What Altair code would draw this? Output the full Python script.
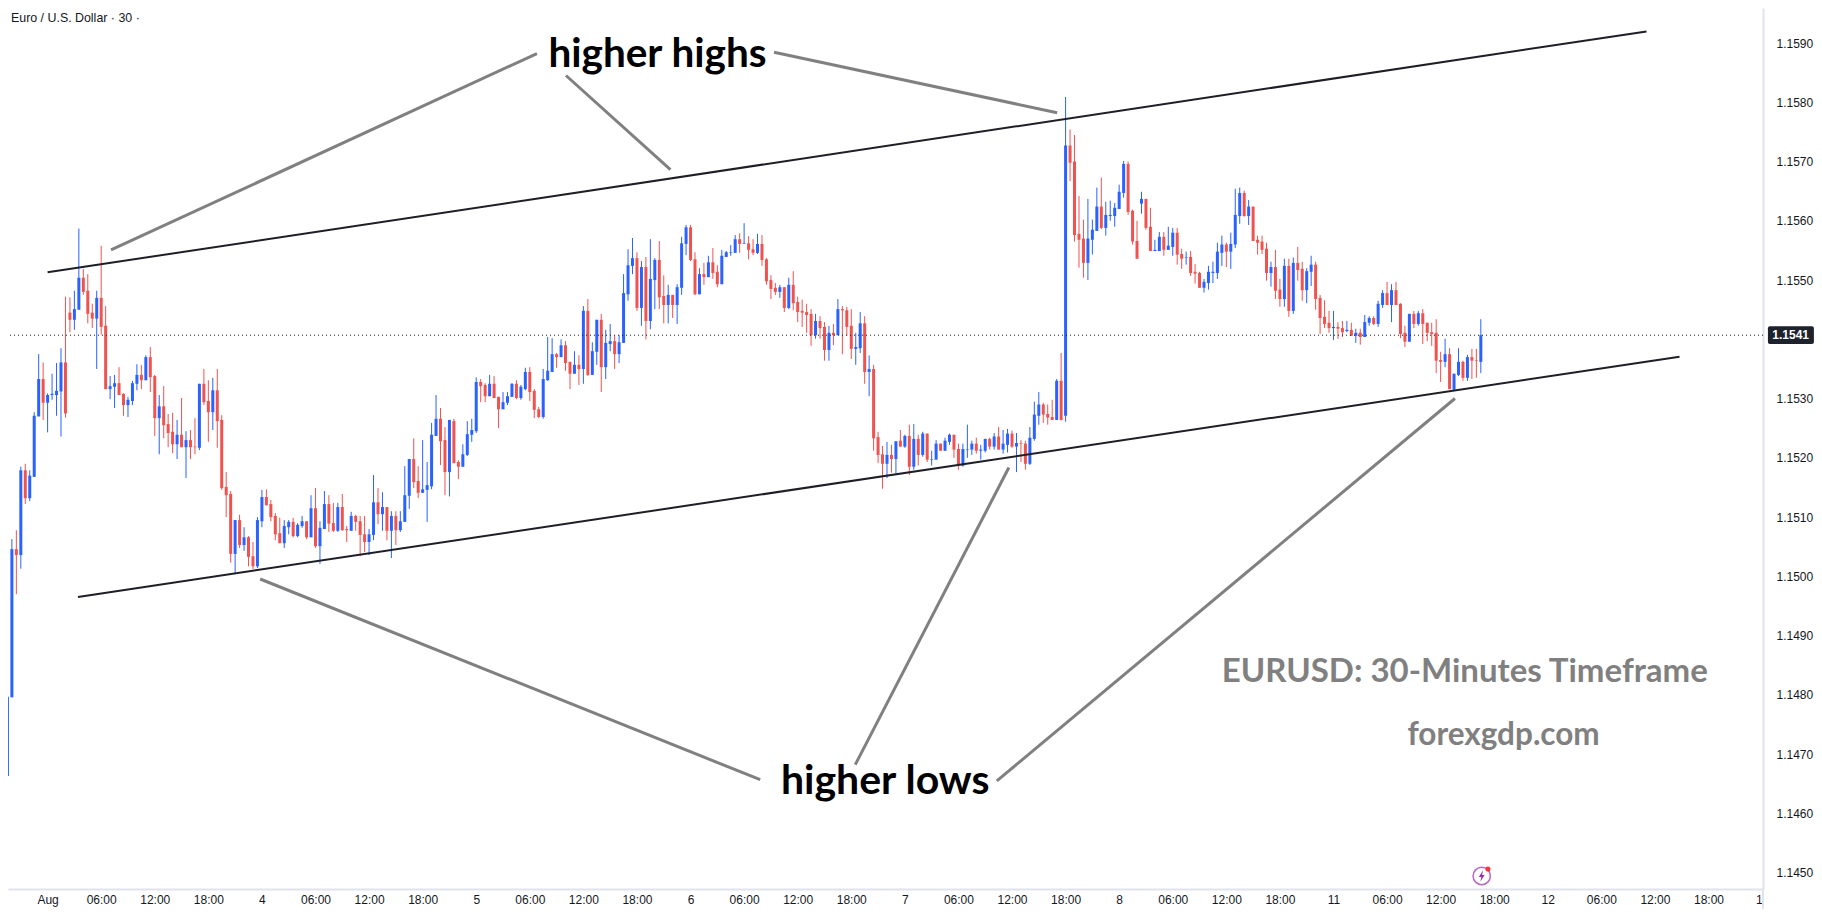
import altair as alt
import pandas as pd

# candle values, as (price - 1) * 100000. bar 0 = Aug 1 00:00, one bar = 30 min
first_bar = -10

highs = [
    15011,14800,15063,15078,15185,15190,15179,15277,15375,15361,
    15309,15342,15360,15385,15472,15471,15482,15587,15519,15510,
    15460,15482,15558,15456,15338,15340,15353,15309,15303,15330,
    15358,15357,15373,15387,15340,15306,15321,15274,15276,15264,
    15301,15245,15247,15267,15325,15350,15331,15335,15350,15272,
    15176,15144,15095,15104,15083,15068,15058,15100,15146,15147,
    15129,15107,15099,15095,15095,15099,15090,15102,15093,15137,
    15149,15093,15144,15137,15124,15124,15139,15085,15109,15104,
    15102,15102,15080,15171,15149,15142,15117,15110,15110,15110,
    15186,15198,15233,15186,15230,15193,15259,15306,15284,15252,
    15264,15266,15196,15223,15262,15266,15336,15333,15326,15340,
    15338,15303,15311,15311,15326,15331,15323,15352,15353,15316,
    15286,15350,15404,15402,15377,15400,15397,15362,15380,15373,
    15456,15468,15395,15433,15443,15416,15426,15407,15407,15510,
    15552,15571,15547,15532,15539,15569,15537,15566,15508,15492,
    15475,15493,15573,15593,15593,15547,15520,15529,15541,15554,
    15525,15551,15549,15559,15576,15579,15596,15574,15569,15578,
    15576,15537,15508,15495,15492,15488,15504,15515,15472,15467,
    15460,15451,15443,15439,15429,15423,15426,15468,15456,15455,
    15451,15411,15446,15439,15373,15357,15244,15220,15227,15222,
    15228,15247,15239,15256,15257,15239,15244,15241,15212,15230,
    15224,15234,15241,15239,15224,15224,15256,15229,15234,15222,
    15232,15234,15242,15252,15247,15249,15246,15242,15230,15229,
    15252,15295,15311,15293,15290,15298,15333,15377,15809,15754,
    15745,15642,15602,15637,15602,15656,15673,15632,15634,15630,
    15661,15701,15700,15619,15600,15649,15637,15622,15568,15581,
    15581,15590,15588,15588,15553,15548,15549,15527,15514,15502,
    15524,15531,15563,15575,15563,15580,15654,15656,15651,15635,
    15624,15575,15575,15563,15531,15551,15502,15536,15536,15538,
    15556,15531,15520,15541,15531,15475,15466,15448,15448,15429,
    15431,15431,15428,15418,15418,15441,15439,15439,15465,15483,
    15497,15493,15497,15461,15423,15443,15448,15448,15451,15428,
    15428,15434,15379,15401,15385,15342,15385,15364,15374,15384,15384,15434,
]
lows = [
    14553,14623,14796,14970,15013,15122,15127,15168,15270,15264,
    15243,15298,15271,15236,15268,15412,15416,15450,15475,15427,
    15419,15350,15408,15316,15299,15284,15306,15271,15269,15289,
    15314,15316,15331,15311,15237,15206,15233,15218,15208,15198,
    15218,15166,15198,15206,15213,15289,15227,15247,15217,15146,
    15100,15023,15004,15048,15043,15017,15012,15014,15083,15120,
    15093,15061,15056,15048,15071,15066,15066,15082,15063,15066,
    15048,15021,15080,15075,15075,15075,15077,15058,15077,15077,
    15034,15041,15036,15061,15088,15077,15061,15031,15053,15075,
    15092,15114,15149,15132,15141,15092,15147,15237,15188,15137,
    15135,15191,15164,15185,15203,15227,15242,15294,15294,15304,
    15301,15250,15282,15289,15303,15299,15298,15314,15296,15267,
    15267,15266,15330,15345,15352,15370,15347,15316,15342,15323,
    15325,15338,15340,15357,15311,15333,15380,15350,15360,15394,
    15465,15510,15448,15423,15400,15417,15451,15451,15427,15427,
    15436,15426,15475,15542,15532,15475,15476,15492,15505,15502,
    15488,15493,15539,15541,15546,15546,15561,15535,15542,15544,
    15524,15492,15468,15475,15470,15446,15451,15449,15429,15421,
    15411,15389,15401,15401,15364,15364,15390,15407,15375,15406,
    15367,15357,15377,15325,15304,15212,15191,15148,15166,15175,
    15173,15219,15217,15171,15180,15187,15202,15193,15187,15197,
    15212,15212,15222,15200,15180,15185,15200,15205,15207,15197,
    15209,15214,15214,15214,15207,15209,15217,15176,15193,15180,
    15188,15229,15256,15259,15256,15264,15264,15263,15261,15667,
    15565,15521,15504,15500,15543,15583,15586,15575,15600,15590,
    15620,15639,15610,15560,15536,15612,15585,15549,15549,15549,
    15541,15551,15541,15526,15519,15526,15507,15494,15487,15479,
    15484,15495,15502,15524,15522,15519,15554,15595,15607,15593,
    15566,15543,15544,15499,15489,15468,15455,15455,15438,15443,
    15499,15465,15461,15490,15450,15409,15419,15411,15399,15401,
    15404,15412,15406,15394,15391,15404,15423,15424,15421,15453,
    15458,15429,15458,15402,15387,15396,15419,15423,15392,15397,
    15389,15343,15328,15353,15316,15313,15338,15330,15330,15333,15335,15343,
]
opens = [
    15004,14663,14796,15046,15036,15179,15132,15168,15270,15333,
    15293,15306,15306,15312,15361,15445,15433,15450,15504,15482,
    15445,15435,15470,15423,15316,15320,15326,15308,15289,15296,
    15325,15340,15331,15370,15338,15267,15287,15257,15244,15223,
    15239,15218,15230,15219,15217,15325,15296,15277,15314,15264,
    15151,15139,15038,15095,15053,15066,15034,15017,15093,15134,
    15122,15102,15073,15056,15083,15092,15068,15085,15093,15066,
    15115,15051,15080,15122,15090,15077,15117,15080,15077,15102,
    15093,15071,15058,15070,15125,15105,15117,15077,15102,15078,
    15092,15136,15198,15161,15141,15146,15152,15237,15266,15230,
    15176,15262,15193,15185,15205,15239,15245,15328,15323,15304,
    15325,15303,15282,15293,15303,15325,15301,15316,15345,15313,
    15282,15269,15331,15345,15375,15370,15390,15362,15342,15357,
    15350,15448,15340,15379,15433,15353,15392,15397,15375,15394,
    15476,15524,15537,15453,15522,15431,15500,15534,15473,15458,
    15475,15458,15487,15561,15589,15535,15476,15510,15505,15530,
    15514,15493,15539,15546,15546,15569,15561,15562,15552,15546,
    15561,15535,15500,15487,15480,15488,15453,15492,15463,15448,
    15446,15443,15407,15431,15421,15382,15411,15407,15451,15449,
    15423,15384,15385,15427,15345,15350,15235,15206,15190,15205,
    15198,15229,15219,15237,15185,15232,15205,15241,15197,15197,
    15224,15212,15227,15239,15215,15187,15214,15214,15224,15212,
    15212,15232,15219,15236,15214,15222,15241,15219,15225,15224,
    15190,15232,15271,15290,15274,15269,15264,15330,15271,15727,
    15700,15578,15570,15529,15568,15583,15624,15588,15608,15608,
    15620,15647,15696,15617,15566,15629,15637,15590,15549,15549,
    15573,15551,15556,15580,15544,15538,15539,15514,15512,15487,
    15495,15512,15512,15546,15560,15548,15560,15608,15647,15608,
    15624,15568,15565,15553,15512,15522,15484,15468,15524,15448,
    15529,15519,15483,15514,15526,15470,15438,15428,15419,15421,
    15419,15414,15416,15406,15411,15404,15428,15436,15426,15458,
    15478,15458,15483,15460,15411,15396,15443,15426,15444,15428,
    15412,15411,15365,15362,15375,15315,15340,15362,15335,15370,15365,15362,
]
closes = [
    14663,14797,15046,15036,15179,15132,15170,15271,15333,15293,
    15306,15308,15313,15361,15275,15433,15451,15504,15480,15443,
    15435,15470,15421,15316,15321,15326,15306,15289,15298,15326,
    15340,15331,15370,15336,15267,15287,15255,15242,15223,15239,
    15218,15230,15218,15218,15325,15294,15277,15314,15262,15149,
    15137,15038,15095,15053,15066,15033,15017,15095,15134,15120,
    15100,15071,15056,15085,15092,15068,15087,15093,15066,15115,
    15051,15082,15122,15089,15077,15117,15078,15078,15102,15092,
    15070,15058,15071,15125,15105,15117,15077,15102,15078,15093,
    15137,15198,15159,15141,15147,15154,15239,15266,15228,15176,
    15264,15191,15185,15206,15240,15247,15328,15321,15304,15325,
    15301,15282,15294,15304,15325,15301,15320,15345,15311,15281,
    15269,15333,15347,15375,15370,15390,15360,15342,15357,15350,
    15448,15340,15380,15433,15353,15394,15397,15375,15395,15478,
    15525,15537,15453,15522,15431,15502,15534,15471,15458,15475,
    15458,15488,15562,15589,15534,15476,15510,15505,15530,15512,
    15493,15541,15547,15547,15569,15561,15562,15551,15546,15561,
    15534,15498,15485,15480,15488,15453,15492,15461,15446,15445,
    15441,15407,15431,15419,15382,15411,15407,15451,15449,15421,
    15384,15387,15427,15345,15350,15233,15205,15190,15205,15198,
    15228,15219,15237,15185,15232,15205,15241,15197,15198,15224,
    15212,15229,15239,15214,15187,15215,15215,15224,15212,15214,
    15232,15219,15236,15214,15224,15241,15219,15225,15224,15190,
    15234,15273,15290,15273,15268,15264,15330,15264,15727,15698,
    15576,15568,15529,15570,15585,15624,15588,15610,15610,15622,
    15649,15696,15615,15565,15536,15637,15588,15549,15551,15573,
    15551,15558,15580,15543,15536,15539,15512,15511,15487,15497,
    15514,15514,15548,15560,15548,15561,15610,15647,15608,15624,
    15566,15563,15551,15512,15522,15482,15468,15524,15448,15529,
    15517,15483,15515,15526,15468,15436,15426,15419,15421,15418,
    15412,15416,15406,15411,15404,15429,15436,15426,15460,15478,
    15458,15483,15458,15409,15396,15443,15426,15444,15426,15411,
    15409,15364,15362,15375,15316,15342,15362,15335,15370,15364,15364,15407,
]

x_ticks = list(range(0, 385, 12))
x_labels = [
    "Aug", "06:00", "12:00", "18:00", "4", "06:00", "12:00", "18:00",
    "5", "06:00", "12:00", "18:00", "6", "06:00", "12:00", "18:00",
    "7", "06:00", "12:00", "18:00", "8", "06:00", "12:00", "18:00",
    "11", "06:00", "12:00", "18:00", "12", "06:00", "12:00", "18:00", "13",
]
y_ticks = [1.145, 1.146, 1.147, 1.148, 1.149, 1.150, 1.151, 1.152, 1.153, 1.155, 1.156, 1.157, 1.158, 1.159]
last_price = 1.15407

# drawn trend lines: bar, price at each end
trend_x0 = [0, 6.8]
trend_x1 = [358.1, 365.5]
trend_y0 = [1.155131, 1.149652]
trend_y1 = [1.159196, 1.153707]

# grey pointers from the captions
ptr_x0 = [14.2, 116.1, 162.7, 47.6, 215.3, 315.2]
ptr_x1 = [109.6, 139.5, 226.1, 159.6, 180.9, 212.6]
ptr_y0 = [1.155508, 1.158452, 1.158844, 1.149956, 1.151837, 1.153002]
ptr_y1 = [1.158823, 1.156863, 1.157824, 1.146569, 1.146824, 1.146549]

x_dom = [-8.87, 384.2]
y_dom = [1.144725, 1.159591]
# padding=0 because bars otherwise pad a continuous scale
x_scale = alt.Scale(domain=x_dom, nice=False, zero=False, padding=0)
y_scale = alt.Scale(domain=y_dom, nice=False, zero=False, padding=0)

BLUE = "#2962ff"
RED = "#ef5350"
GRID = "#e0e3eb"
INK = "#131722"
FONT = "Liberation Sans"

candles = pd.DataFrame({
    "bar": list(range(first_bar, first_bar + len(highs))),
    "high": [1 + v / 1e5 for v in highs],
    "low": [1 + v / 1e5 for v in lows],
    "open": [1 + v / 1e5 for v in opens],
    "close": [1 + v / 1e5 for v in closes],
})
candles["dir"] = ["up" if c >= o else "down" for o, c in zip(opens, closes)]

dir_color = alt.Color("dir:N", scale=alt.Scale(domain=["up", "down"], range=[BLUE, RED]), legend=None)

label_expr = "{" + ",".join(f"'{t}':'{s}'" for t, s in zip(x_ticks, x_labels)) + "}[datum.value]"

x_axis = alt.Axis(
    values=x_ticks, labelExpr=label_expr, title=None, grid=False, ticks=False,
    labelFont=FONT, labelFontSize=12, labelColor=INK, labelPadding=5, labelOverlap=False,
    labelFlush=False, domainColor=GRID, domainWidth=2,
)
y_axis = alt.Axis(
    orient="right", values=y_ticks, format=".4f", title=None, grid=False, ticks=False,
    labelFont=FONT, labelFontSize=12, labelColor=INK, labelPadding=13, labelOverlap=False,
    labelFlush=False, domainColor=GRID, domainWidth=2,
)


def xq(field):
    return alt.X(field, scale=x_scale, axis=x_axis)


def yq(field):
    return alt.Y(field, scale=y_scale, axis=y_axis)


wicks = alt.Chart(candles).mark_rule(strokeWidth=1).encode(
    x=xq("bar:Q"), y=yq("low:Q"), y2="high:Q", color=dir_color,
)
bodies = alt.Chart(candles).mark_bar(size=3).encode(
    x=xq("bar:Q"), y=yq("open:Q"), y2="close:Q", color=dir_color,
)

last_line = alt.Chart(pd.DataFrame({"y": [last_price]})).mark_rule(
    strokeWidth=1, strokeDash=[1, 3], color=INK
).encode(y=yq("y:Q"))


def seg_layer(x0, x1, y0, y1, color, width):
    df = pd.DataFrame({"x0": x0, "x1": x1, "y0": y0, "y1": y1})
    return alt.Chart(df).mark_rule(color=color, strokeWidth=width).encode(
        x=xq("x0:Q"), x2="x1:Q", y=yq("y0:Q"), y2="y1:Q",
    )


trends = seg_layer(trend_x0, trend_x1, trend_y0, trend_y1, "#1e1e26", 2)
pointers = seg_layer(ptr_x0, ptr_x1, ptr_y0, ptr_y1, "#808080", 3)


def text_layer(txt, x, y, size, color, weight="normal", font=FONT, align="center"):
    df = pd.DataFrame({"x": [x], "y": [y], "t": [txt]})
    return alt.Chart(df).mark_text(
        font=font, fontSize=size, color=color, fontWeight=weight, align=align, baseline="middle"
    ).encode(x=xq("x:Q"), y=yq("y:Q"), text="t:N")


header = text_layer("Euro / U.S. Dollar · 30 ·", -8.2, 1.159422, 12.4, INK, align="left")
cap_highs = text_layer("higher highs", 136.6, 1.158805, 40.5, "#000000", "bold", "Lato")
cap_lows = text_layer("higher lows", 187.6, 1.146530, 41, "#000000", "bold", "Lato")
cap_tf = text_layer("EURUSD: 30-Minutes Timeframe", 317.4, 1.148393, 33, "#808080", "bold", "Lato")
cap_site = text_layer("forexgdp.com", 326.1, 1.147315, 31.5, "#808080", "bold", "Lato")

# price tag on the right, and the cover that cuts the last date label at the price scale
tag = alt.Chart(pd.DataFrame({"x": [385.3], "x2": [395.6], "y": [1.15392], "y2": [1.15422]})).mark_rect(
    color="#1e222d", cornerRadius=2
).encode(x=xq("x:Q"), x2="x2:Q", y=yq("y:Q"), y2="y2:Q")
tag_text = text_layer("1.1541", 390.4, last_price, 12, "#ffffff", "bold")
cover = alt.Chart(pd.DataFrame({"x": [384.4], "x2": [400.0], "y": [1.14470], "y2": [1.14435]})).mark_rect(
    color="#ffffff"
).encode(x=xq("x:Q"), x2="x2:Q", y=yq("y:Q"), y2="y2:Q")
scale_edge = alt.Chart(pd.DataFrame({"x": [384.2], "y": [1.144725], "y2": [1.14435]})).mark_rule(
    color=GRID, strokeWidth=2
).encode(x=xq("x:Q"), y=yq("y:Q"), y2="y2:Q")

# the little purple badge at the bottom
badge = pd.DataFrame({"x": [321.2], "y": [1.144944]})
ring = alt.Chart(badge).mark_point(
    shape="circle", size=300, filled=False, color="#9c27b0", strokeWidth=1.5
).encode(x=xq("x:Q"), y=yq("y:Q"))
bolt = alt.Chart(badge).mark_point(
    shape="M0.25,-1 L-0.5,0.15 L-0.05,0.15 L-0.25,1 L0.5,-0.2 L0.05,-0.2 Z",
    size=130, filled=True, color="#9c27b0", opacity=1,
).encode(x=xq("x:Q"), y=yq("y:Q"))
dot = alt.Chart(pd.DataFrame({"x": [322.6], "y": [1.145062]})).mark_circle(
    size=26, color="#f23645", opacity=1
).encode(x=xq("x:Q"), y=yq("y:Q"))

chart = alt.layer(
    wicks, bodies, last_line, trends, pointers, header, cap_highs, cap_lows, cap_tf, cap_site,
    tag, tag_text, cover, scale_edge, ring, bolt, dot,
).properties(
    width=1755,
    height=881,
    autosize=alt.AutoSizeParams(type="none"),
    padding={"left": 0, "top": 0, "right": 51, "bottom": 20},
    background="#ffffff",
).configure_view(stroke=None)

chart.save("out.html", embed_options={"renderer": "svg", "actions": False})
